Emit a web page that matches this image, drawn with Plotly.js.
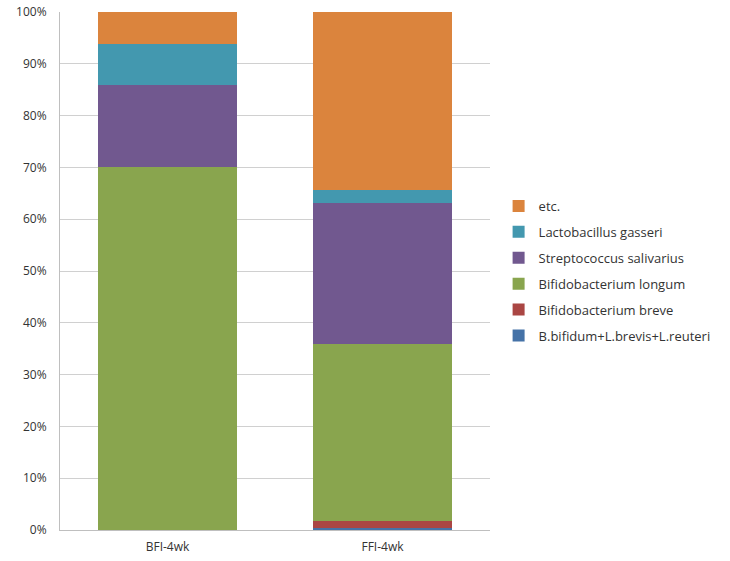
<!DOCTYPE html>
<html><head><meta charset="utf-8">
<script src="https://cdn.plot.ly/plotly-3.0.1.min.js"></script>
<style>body{margin:0;background:#fff}#c{width:730px;height:561px}</style>
</head><body><div id="c"></div>
<script>
const categories = ["BFI-4wk", "FFI-4wk"];
const seriesNames = ["B.bifidum+L.brevis+L.reuteri", "Bifidobacterium breve", "Bifidobacterium longum", "Streptococcus salivarius", "Lactobacillus gasseri", "etc."];
const bifidumBrevisReuteri = [0, 0.4];
const bifidobacteriumBreve = [0, 1.3];
const bifidobacteriumLongum = [70.1, 34.2];
const streptococcusSalivarius = [15.8, 27.3];
const lactobacillusGasseri = [8.0, 2.4];
const etc = [6.1, 34.4];
const colors = ["#4572A7", "#AA4643", "#89A54E", "#71588F", "#4398AF", "#DB843D"];
const yTickVals = [0,10,20,30,40,50,60,70,80,90,100];
const yTickText = yTickVals.map(v => v + "%");

const values = [bifidumBrevisReuteri, bifidobacteriumBreve, bifidobacteriumLongum, streptococcusSalivarius, lactobacillusGasseri, etc];
const traces = values.map((v, i) => ({
  type: "bar", x: categories, y: v, name: seriesNames[i],
  marker: {color: colors[i], line: {width: 0}},
  legendgroup: "g" + i, legendrank: 100 - i, hoverinfo: "none"
}));

const layout = {
  width: 730, height: 561,
  margin: {l: 60, r: 240, t: 12, b: 31},
  barmode: "stack", bargap: 0.35,
  paper_bgcolor: "#fff", plot_bgcolor: "#fff",
  font: {family: "Open Sans, Liberation Sans, sans-serif", color: "#333", size: 12},
  xaxis: {showgrid: false, showline: true, linecolor: "#BFBFBF", linewidth: 1,
    ticks: "outside", ticklen: 6, tickcolor: "rgba(0,0,0,0)", tickfont: {size: 12, color: "#333"}},
  yaxis: {range: [0, 100], tickvals: yTickVals, ticktext: yTickText, showgrid: true,
    gridcolor: "#D0D0D0", gridwidth: 1, showline: true, linecolor: "#BFBFBF", linewidth: 1,
    zeroline: false, ticks: "outside", ticklen: 10, tickcolor: "rgba(0,0,0,0)",
    tickfont: {size: 12, color: "#333"}},
  showlegend: true,
  legend: {x: 1.02, y: 0.5, xanchor: "left", yanchor: "middle", traceorder: "grouped",
    tracegroupgap: 6, font: {size: 13, color: "#333"}, itemwidth: 30}
};
Plotly.newPlot("c", traces, layout, {displayModeBar: false, staticPlot: true});
</script></body></html>
